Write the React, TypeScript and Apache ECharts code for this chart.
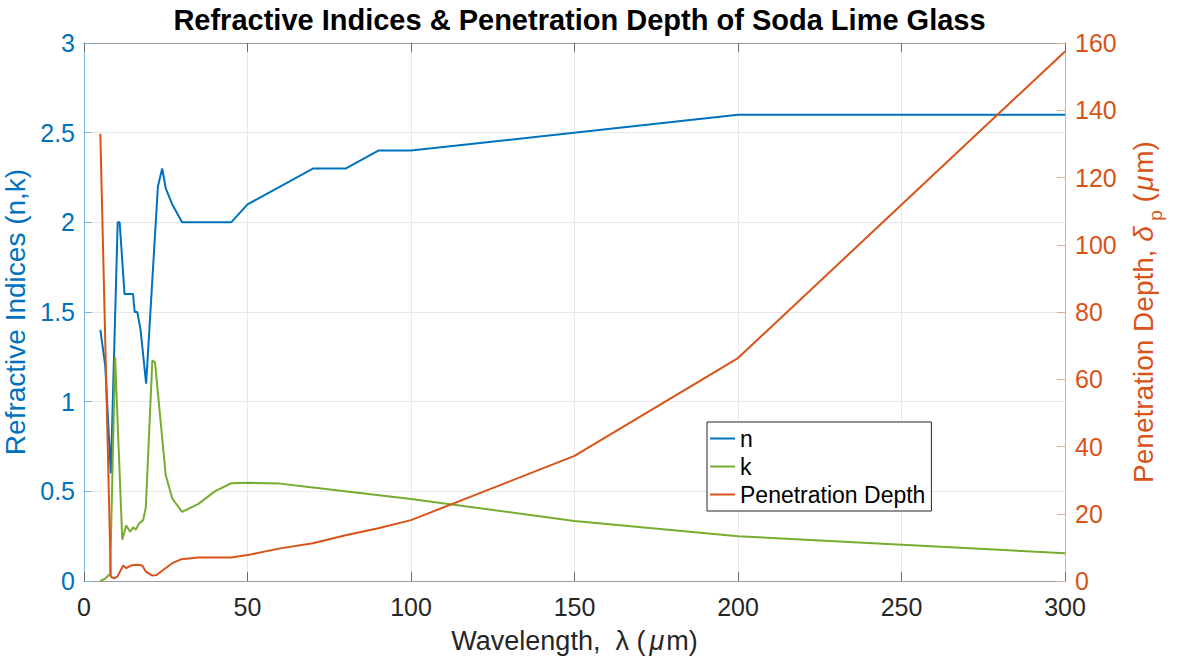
import React, { useEffect, useRef } from "react";
import * as echarts from "echarts";

const titleText = "Refractive Indices & Penetration Depth of Soda Lime Glass";

// n (real refractive index)
const nX = [5, 6.5, 8.2, 10.3, 10.9, 12.4, 15, 15.5, 16.3, 17.3, 19, 22.6, 23.9, 25, 27, 30, 45, 50, 70, 80, 90, 100, 200, 300];
const nY = [1.4, 1.2, 0.6, 2.0, 2.0, 1.6, 1.6, 1.5, 1.5, 1.4, 1.1, 2.2, 2.3, 2.19, 2.1, 2.0, 2.0, 2.1, 2.3, 2.3, 2.4, 2.4, 2.6, 2.6];

// k (extinction coefficient)
const kX = [5, 6.6, 8, 9.5, 11.7, 12.9, 14.1, 15, 15.8, 16.8, 18.1, 18.9, 20.9, 21.7, 25, 27, 30, 35, 40, 45, 50, 60, 70, 100, 150, 200, 300];
const kY = [0, 0.015, 0.04, 1.25, 0.23, 0.31, 0.275, 0.3, 0.285, 0.32, 0.34, 0.41, 1.23, 1.22, 0.59, 0.46, 0.385, 0.43, 0.5, 0.545, 0.548, 0.543, 0.522, 0.457, 0.335, 0.25, 0.155];

// Penetration depth (um)
const dX = [5, 8.2, 9.2, 10.2, 12, 12.9, 14.3, 16.3, 17.8, 18.9, 20.9, 22.2, 24.5, 27, 29.8, 35, 45, 50, 60, 70, 80, 90, 100, 150, 200, 300];
const dY = [133, 1.3, 0.8, 1.3, 4.6, 3.8, 4.6, 4.8, 4.6, 2.8, 1.6, 1.8, 3.5, 5.3, 6.5, 7.0, 7.0, 7.7, 9.7, 11.2, 13.6, 15.7, 18.1, 37.2, 66.3, 157.5];

const pairs = (xs: number[], ys: number[]) => xs.map((x, i) => [x, ys[i]]);

const BLUE = "#0072BD";
const GREEN = "#77AC30";
const ORANGE = "#D95319";
const FONT = "'Liberation Sans', Arial, sans-serif";

export default function App() {
  const ref = useRef<HTMLDivElement>(null);
  useEffect(() => {
    if (!ref.current) return;
    const chart = echarts.init(ref.current, null, { renderer: "svg" });
    chart.setOption({
      animation: false,
      textStyle: { fontFamily: FONT },
      title: {
        text: titleText,
        left: 574.5,
        textAlign: "center",
        top: 0,
        textStyle: { fontSize: 29, fontWeight: "bold", color: "#000", fontFamily: FONT },
      },
      grid: { left: 84, right: 113, top: 43, bottom: 79, containLabel: false, outerBoundsMode: "none" },
      legend: {
        orient: "vertical",
        left: 707,
        top: 422,
        padding: [5, 6, 5, 3],
        itemGap: 5,
        itemWidth: 25,
        itemHeight: 2,
        icon: "rect",
        backgroundColor: "#fff",
        borderColor: "#262626",
        borderWidth: 1,
        borderRadius: 0,
        textStyle: { fontSize: 23, color: "#000", fontFamily: FONT },
        data: ["n", "k", "Penetration Depth"],
      },
      xAxis: [
        {
          type: "value",
          min: 0,
          max: 300,
          interval: 50,
          name: "{a|Wavelength,  λ (}{m|μ}{a|m)}",
          nameLocation: "middle",
          nameGap: 46,
          nameTextStyle: {
            rich: {
              a: { fontSize: 27, color: "#262626", fontFamily: FONT },
              m: { fontSize: 27, color: "#262626", fontFamily: FONT, fontStyle: "italic", padding: [0, 2, 0, 4] },
            },
          },
          axisLine: { show: true, onZero: false, lineStyle: { color: "#9a9a9a", width: 1 } },
          axisTick: { show: true, inside: true, length: 9, lineStyle: { color: "#6a6a6a" } },
          axisLabel: { fontSize: 25, color: "#262626", margin: 13, fontFamily: FONT },
          splitLine: { show: true, lineStyle: { color: "#e8e8e8", width: 1 } },
        },
        {
          type: "value",
          position: "top",
          min: 0,
          max: 300,
          interval: 50,
          axisLine: { show: true, onZero: false, lineStyle: { color: "#9a9a9a", width: 1 } },
          axisTick: { show: true, inside: true, length: 9, lineStyle: { color: "#6a6a6a" } },
          axisLabel: { show: false },
          splitLine: { show: false },
        },
      ],
      yAxis: [
        {
          type: "value",
          min: 0,
          max: 3,
          interval: 0.5,
          position: "left",
          name: "Refractive Indices (n,k)",
          nameLocation: "middle",
          nameGap: 46,
          nameRotate: 90,
          nameTextStyle: { fontSize: 28, color: BLUE, fontFamily: FONT },
          axisLine: { show: true, onZero: false, lineStyle: { color: "#7fb4dc", width: 1 } },
          axisTick: { show: true, inside: true, length: 8, lineStyle: { color: "#7fb4dc" } },
          axisLabel: { fontSize: 25, color: BLUE, margin: 9, fontFamily: FONT },
          splitLine: { show: true, lineStyle: { color: "#e8e8e8", width: 1 } },
        },
        {
          type: "value",
          min: 0,
          max: 160,
          interval: 20,
          position: "right",
          name: "{a|Penetration Depth, }{d|δ}{s| p}{a| (}{m|μ}{a|m)}",
          nameLocation: "middle",
          nameGap: 56,
          nameRotate: 90,
          nameTextStyle: {
            rich: {
              a: { fontSize: 28, color: ORANGE, fontFamily: FONT, lineHeight: 44, verticalAlign: "middle" },
              d: { fontSize: 28, color: ORANGE, fontFamily: FONT, fontStyle: "italic", lineHeight: 44, verticalAlign: "middle" },
              m: { fontSize: 28, color: ORANGE, fontFamily: FONT, fontStyle: "italic", lineHeight: 44, verticalAlign: "middle", padding: [0, 2, 0, 2] },
              s: { fontSize: 19, color: ORANGE, fontFamily: FONT, lineHeight: 19, verticalAlign: "bottom" },
            },
          },
          axisLine: { show: true, onZero: false, lineStyle: { color: "#ecab8f", width: 1 } },
          axisTick: { show: true, inside: true, length: 8, lineStyle: { color: "#ecab8f" } },
          axisLabel: { fontSize: 25, color: ORANGE, margin: 10, fontFamily: FONT },
          splitLine: { show: false },
        },
      ],
      series: [
        {
          name: "n",
          type: "line",
          data: pairs(nX, nY),
          showSymbol: false,
          symbol: "none",
          lineStyle: { color: BLUE, width: 2 },
          itemStyle: { color: BLUE },
          yAxisIndex: 0,
          z: 3,
        },
        {
          name: "k",
          type: "line",
          data: pairs(kX, kY),
          showSymbol: false,
          symbol: "none",
          lineStyle: { color: GREEN, width: 2 },
          itemStyle: { color: GREEN },
          yAxisIndex: 0,
          z: 3,
        },
        {
          name: "Penetration Depth",
          type: "line",
          data: pairs(dX, dY),
          showSymbol: false,
          symbol: "none",
          lineStyle: { color: ORANGE, width: 2 },
          itemStyle: { color: ORANGE },
          yAxisIndex: 1,
          z: 3,
        },
      ],
    });
    return () => chart.dispose();
  }, []);
  return (
    <div
      ref={ref}
      style={{ position: "absolute", left: 0, top: 0, width: 1178, height: 660, background: "#fff" }}
    />
  );
}
